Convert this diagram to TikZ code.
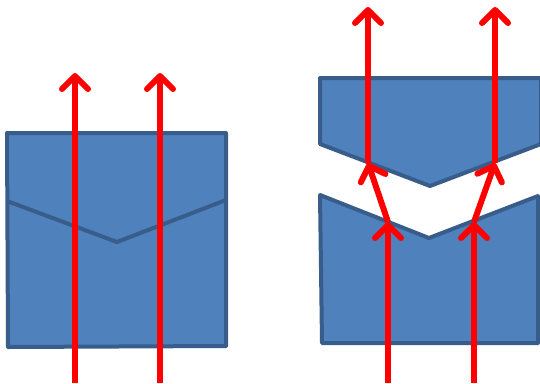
\documentclass[tikz,border=0pt]{standalone}
\usetikzlibrary{arrows.meta}
\definecolor{bfill}{HTML}{4F81BD}
\definecolor{bline}{HTML}{385D8A}
\begin{document}
\begin{tikzpicture}[x=1pt,y=-1pt,
  piece/.style={fill=bfill,draw=bline,line width=4pt,line join=round},
  ray/.style={draw=red,line width=6pt,-{Straight Barb[length=13pt,width=26pt,line cap=round,line join=round]}}]
\useasboundingbox (0,0) rectangle (540,383);
% left block
\draw[piece] (7,133) -- (226,133) -- (226,346) -- (8,347) -- cycle;
\draw[bline,line width=4pt,line join=round] (7,201) -- (117,242) -- (226,200);
% right blocks
\draw[piece] (320,78) -- (541,78) -- (541,144) -- (430,186) -- (320,144) -- cycle;
\draw[piece] (320,195) -- (429,238) -- (538,196) -- (538,343) -- (322,343) -- cycle;
% coordinates
\coordinate (l1s) at (75,383); \coordinate (l1e) at (75,73);
\coordinate (l2s) at (160,383); \coordinate (l2e) at (160,73);
\coordinate (r1a) at (388,383); \coordinate (r1b) at (388,222);
\coordinate (r1c) at (368,163); \coordinate (r1d) at (368,7);
\coordinate (r2a) at (474,383); \coordinate (r2b) at (474,222);
\coordinate (r2c) at (495,163); \coordinate (r2d) at (495,7);
% rays
\draw[ray] (l1s) -- (l1e);
\draw[ray] (l2s) -- (l2e);
\draw[ray] (r1a) -- (r1b);
\draw[ray] (r1b) -- (r1c);
\draw[ray] (r1c) -- (r1d);
\draw[ray] (r2a) -- (r2b);
\draw[ray] (r2b) -- (r2c);
\draw[ray] (r2c) -- (r2d);
\end{tikzpicture}
\end{document}
